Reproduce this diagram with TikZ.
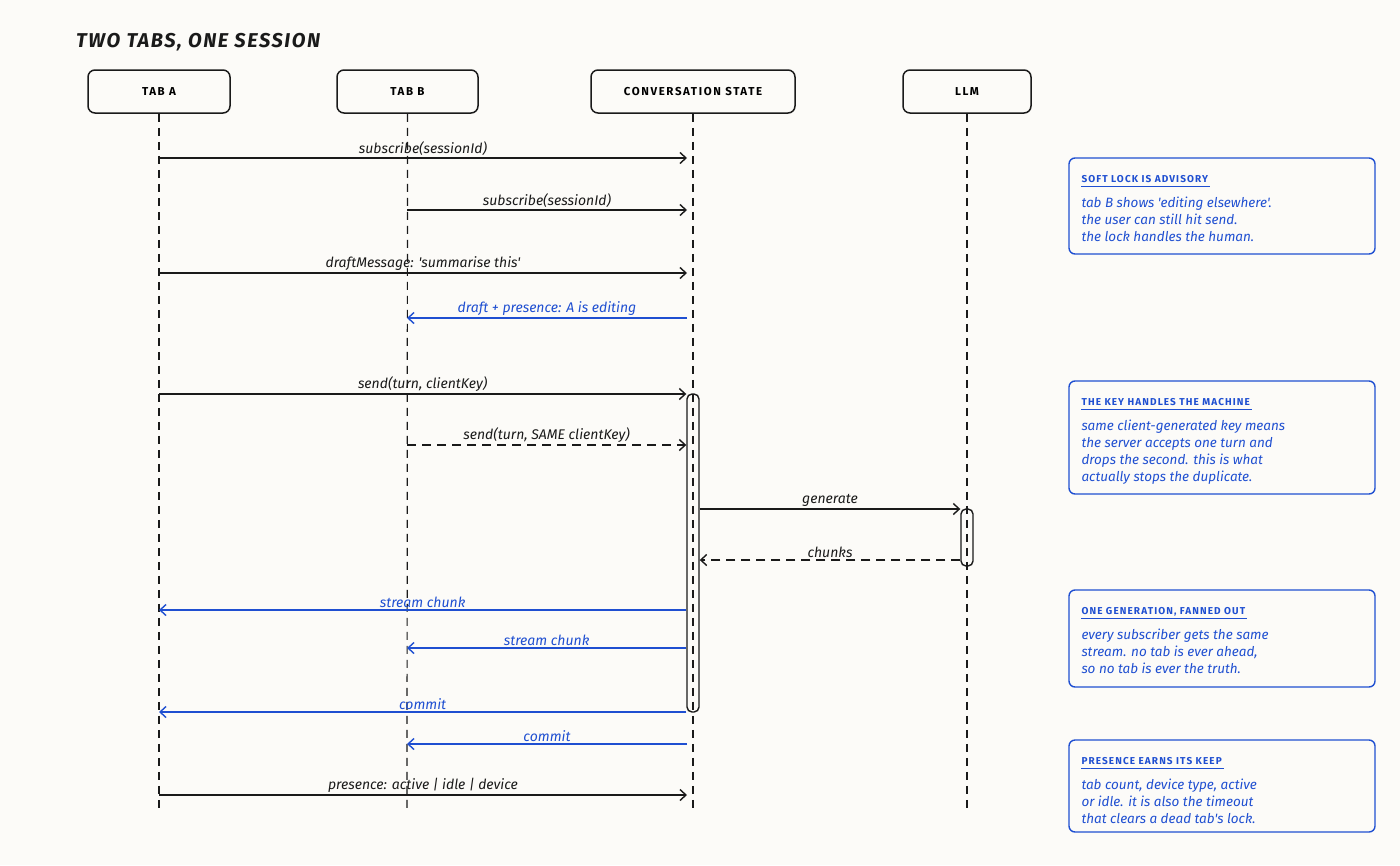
\documentclass[tikz,border=0pt]{standalone}
\usepackage{fontspec}
\setmainfont{Fira Sans}[Ligatures=TeXOff]
\newfontfamily\widefont{Fira Sans}[LetterSpace=14,Ligatures=TeXOff]
\newfontfamily\notefont{Fira Sans}[LetterSpace=11,Ligatures=TeXOff]
\newfontfamily\titlefont{Fira Sans}[LetterSpace=8,Ligatures=TeXOff]
\usetikzlibrary{arrows.meta}
\definecolor{ink}{HTML}{1A1A1A}
\definecolor{nb}{HTML}{1F4FD1}
\definecolor{bg}{HTML}{FCFBF8}
\begin{document}
\begin{tikzpicture}[x=1pt,y=-1pt,
  head/.style={draw=ink, rounded corners=7pt, line width=1.5pt, minimum height=43pt, inner sep=0pt,
    font=\widefont\bfseries\fontsize{11.5}{13}\selectfont},
  life/.style={draw=ink, line width=1.2pt, dash pattern=on 8pt off 6pt},
  msg/.style={draw=ink, line width=1.4pt, -{Straight Barb[length=6pt,width=11pt]}},
  ret/.style={msg, dash pattern=on 9pt off 6pt},
  bmsg/.style={msg, draw=nb},
  lbl/.style={midway, above=1pt, inner sep=1pt, font=\itshape\fontsize{14}{16}\selectfont, text=ink},
  blbl/.style={lbl, text=nb},
  actbar/.style={draw=ink, line width=1.4pt, rounded corners=5pt, minimum width=12pt, inner sep=0pt},
  notebox/.style={draw=nb, line width=1.4pt, rounded corners=6pt, minimum width=306pt, inner sep=0pt},
  ntitle/.style={inner sep=0pt, text=nb, font=\notefont\bfseries\fontsize{10}{12}\selectfont},
  nbody/.style={inner sep=0pt, text=nb, align=left, font=\itshape\fontsize{13.5}{17}\selectfont},
]
\fill[bg] (0,0) rectangle (1400,865);

\node[anchor=west, inner sep=0pt, text=ink, font=\titlefont\bfseries\itshape\fontsize{20}{24}\selectfont] (title) at (76,42) {TWO TABS, ONE SESSION};

% headers
\node[head, minimum width=142pt] (ha) at (159,91.5) {TAB A};
\node[head, minimum width=141pt] (hb) at (407.5,91.5) {TAB B};
\node[head, minimum width=204pt] (hc) at (693,91.5) {CONVERSATION STATE};
\node[head, minimum width=128pt] (hl) at (967,91.5) {LLM};

% lifeline ends
\coordinate (ea) at (159,808);
\coordinate (eb) at (407,808);
\coordinate (ec) at (693,808);
\coordinate (el) at (967,808);
\draw[life] (ha.south) -- (ea);
\draw[life] (hb.south) -- (eb);
\draw[life] (hc.south) -- (ec);
\draw[life] (hl.south) -- (el);

% activation bars
\node[actbar, minimum height=318pt] (act) at (693,553) {};
\node[actbar, minimum height=57pt] (actl) at (967,537.5) {};

% message anchor points
\coordinate (a1) at (159,158);  \coordinate (c1) at (687,158);
\coordinate (b2) at (407,210);  \coordinate (c2) at (687,210);
\coordinate (a3) at (159,273);  \coordinate (c3) at (687,273);
\coordinate (c4) at (687,318);  \coordinate (b4) at (407,318);
\coordinate (a5) at (159,394);
\coordinate (b6) at (407,445);
\coordinate (a9) at (159,610);
\coordinate (b10) at (407,648);
\coordinate (a11) at (159,712);
\coordinate (c12) at (687,744); \coordinate (b12) at (407,744);
\coordinate (a13) at (159,795); \coordinate (c13) at (687,795);

\draw[msg] (a1) -- (c1) node[lbl] {subscribe(sessionId)};
\draw[msg] (b2) -- (c2) node[lbl] {subscribe(sessionId)};
\draw[msg] (a3) -- (c3) node[lbl] {draftMessage: 'summarise this'};
\draw[bmsg] (c4) -- (b4) node[blbl] {draft + presence: A is editing};
\draw[msg] (a5) -- (act.west |- a5) node[lbl] {send(turn, clientKey)};
\draw[ret] (b6) -- (act.west |- b6) node[lbl] {send(turn, SAME clientKey)};
\draw[msg] (act.east |- 0,509) -- (actl.west |- 0,509) node[lbl] {generate};
\draw[ret] (actl.west |- 0,560) -- (act.east |- 0,560) node[lbl] {chunks};
\draw[bmsg] (act.west |- a9) -- (a9) node[blbl] {stream chunk};
\draw[bmsg] (act.west |- b10) -- (b10) node[blbl] {stream chunk};
\draw[bmsg] (act.west |- a11) -- (a11) node[blbl] {commit};
\draw[bmsg] (c12) -- (b12) node[blbl] {commit};
\draw[msg] (a13) -- (c13) node[lbl] {presence: active | idle | device};

% notes
\node[notebox, minimum height=96pt] (n1) at (1222,206) {};
\node[notebox, minimum height=113pt] (n2) at (1222,437.5) {};
\node[notebox, minimum height=97pt] (n3) at (1222,638.5) {};
\node[notebox, minimum height=92pt] (n4) at (1222,786) {};

\node[ntitle, anchor=base west] (t1) at ([xshift=13pt,yshift=-25pt]n1.north west) {SOFT LOCK IS ADVISORY};
\node[ntitle, anchor=base west] (t2) at ([xshift=13pt,yshift=-25pt]n2.north west) {THE KEY HANDLES THE MACHINE};
\node[ntitle, anchor=base west] (t3) at ([xshift=13pt,yshift=-25pt]n3.north west) {ONE GENERATION, FANNED OUT};
\node[ntitle, anchor=base west] (t4) at ([xshift=13pt,yshift=-25pt]n4.north west) {PRESENCE EARNS ITS KEEP};
\foreach \t in {t1,t2,t3,t4}
  \draw[nb, line width=1.1pt] ([yshift=-4pt]\t.base west) -- ([yshift=-4pt,xshift=2pt]\t.base east);

\node[nbody, anchor=north west] (d1) at ([xshift=13pt,yshift=-39pt]n1.north west) {tab B shows 'editing elsewhere'.\\the user can still hit send.\\the lock handles the human.};
\node[nbody, anchor=north west] (d2) at ([xshift=13pt,yshift=-39pt]n2.north west) {same client-generated key means\\the server accepts one turn and\\drops the second. this is what\\actually stops the duplicate.};
\node[nbody, anchor=north west] (d3) at ([xshift=13pt,yshift=-39pt]n3.north west) {every subscriber gets the same\\stream. no tab is ever ahead,\\so no tab is ever the truth.};
\node[nbody, anchor=north west] (d4) at ([xshift=13pt,yshift=-39pt]n4.north west) {tab count, device type, active\\or idle. it is also the timeout\\that clears a dead tab's lock.};
\end{tikzpicture}
\end{document}
